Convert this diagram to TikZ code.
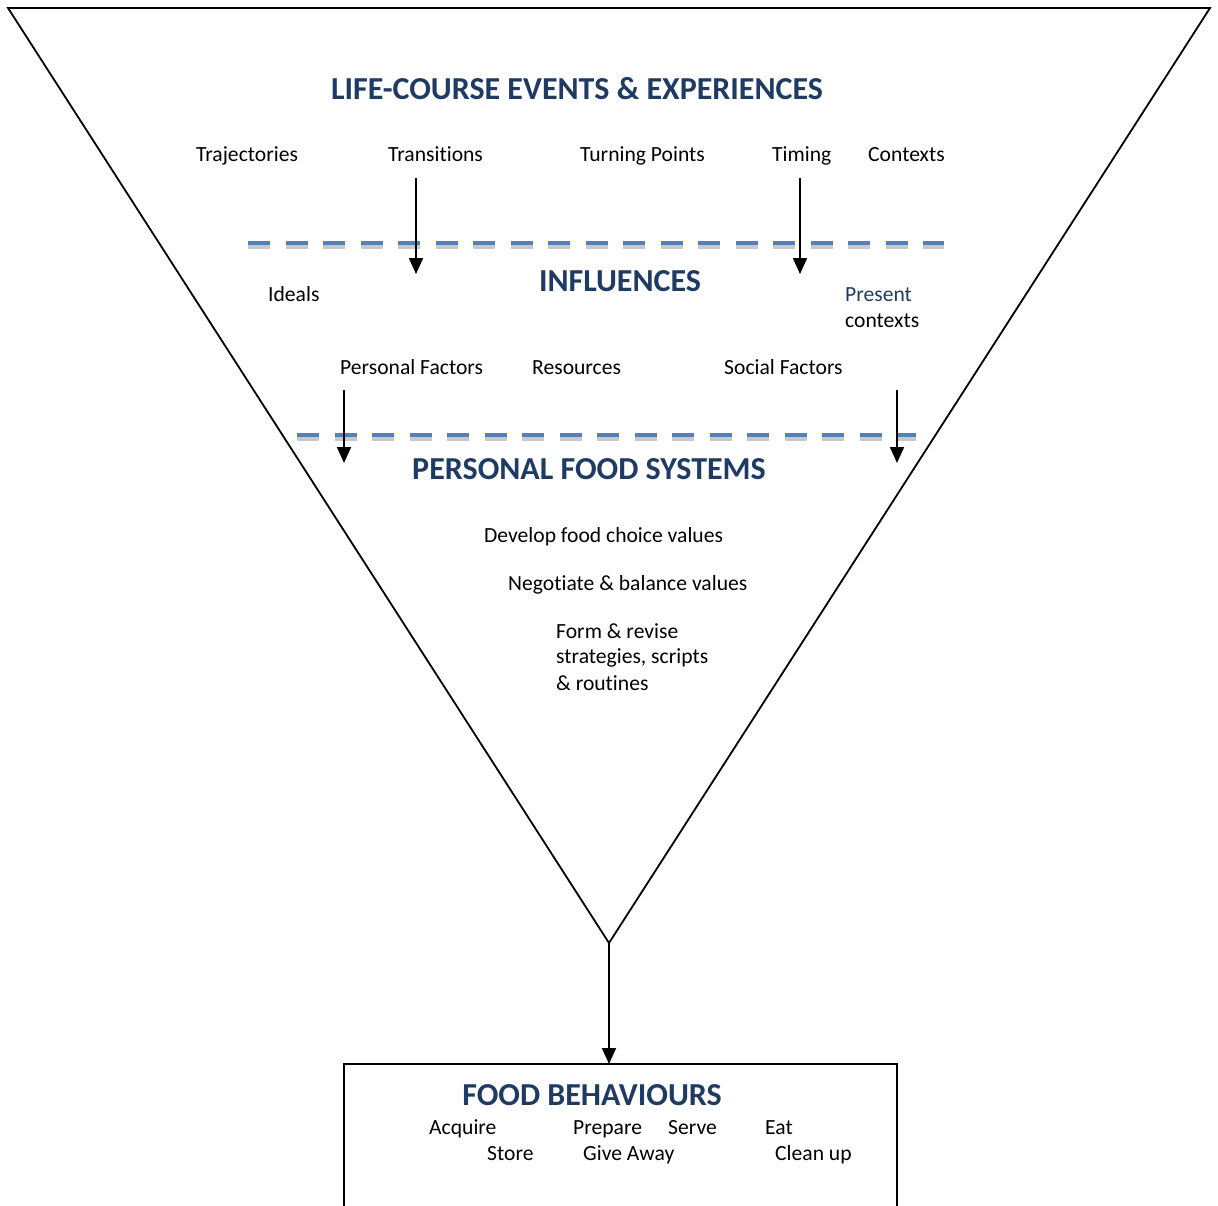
\documentclass[tikz,border=0pt]{standalone}
\usepackage{fontspec}
\setmainfont[Ligatures=NoCommon]{Carlito}
\usetikzlibrary{arrows.meta}
\definecolor{navy}{HTML}{1F3B63}
\definecolor{dashblue}{HTML}{4F81BD}
\definecolor{shadegray}{HTML}{C8C8C8}
\tikzset{
  txt/.style={anchor=base west, inner sep=0pt, font=\fontsize{21.6}{26}\selectfont},
  ttl/.style={inner sep=0pt, text=navy, font=\fontsize{32}{36}\selectfont\bfseries},
  arr/.style={line width=2pt, -{Triangle[length=16pt,width=14pt]}},
  sep/.style={line width=4pt, draw=dashblue, dash pattern=on 22pt off 15.5pt},
  sepshade/.style={line width=4pt, draw=shadegray, dash pattern=on 22pt off 15.5pt},
}
\begin{document}
\begin{tikzpicture}[x=1pt,y=-1pt]
\useasboundingbox (0,0) rectangle (1218,1205);
% funnel
\coordinate (tl) at (8,8);
\coordinate (tr) at (1210,8);
\coordinate (apex) at (609,943);
\draw[line width=1.8pt, line join=miter] (tl) -- (tr) -- (apex) -- cycle;
% separators
\draw[sepshade] (248,246.5) -- (944,246.5);
\draw[sep] (248,242.5) -- (944,242.5);
\draw[sepshade] (297,438.5) -- (916,438.5);
\draw[sep] (297,434.5) -- (916,434.5);
% titles
\node[ttl] (lc) at (577,89) {LIFE-COURSE EVENTS \& EXPERIENCES};
\node[ttl] (inf) at (620,281) {INFLUENCES};
\node[ttl] (pfs) at (589,469) {PERSONAL FOOD SYSTEMS};
\node[ttl] (fb) at (592,1095) {FOOD BEHAVIOURS};
% life-course items
\node[txt] (traj) at (196,161) {Trajectories};
\node[txt] (trans) at (388,161) {Transitions};
\node[txt] (turn) at (580,161) {Turning Points};
\node[txt] (timing) at (772,161) {Timing};
\node[txt] (ctx) at (868,161) {Contexts};
% influences
\node[txt] (ideals) at (268,301) {Ideals};
\node[txt, text=navy] (present) at (845,301) {Present};
\node[txt] (contexts) at (845,327) {contexts};
\node[txt] (pers) at (340,374) {Personal Factors};
\node[txt] (res) at (532,374) {Resources};
\node[txt] (soc) at (724,374) {Social Factors};
% personal food systems
\node[txt] (dev) at (484,542) {Develop food choice values};
\node[txt] (neg) at (508,590) {Negotiate \& balance values};
\node[txt] (form1) at (556,638) {Form \& revise};
\node[txt] (form2) at (556,663) {strategies, scripts};
\node[txt] (form3) at (556,690) {\& routines};
% food behaviours box
\coordinate (bl) at (344,1206);
\coordinate (btl) at (344,1064);
\coordinate (btr) at (897,1064);
\coordinate (br) at (897,1206);
\coordinate (btop) at (609,1064);
\draw[line width=1.8pt] (bl) -- (btl) -- (btr) -- (br);
\node[txt] (acq) at (429,1134) {Acquire};
\node[txt] (prep) at (573,1134) {Prepare};
\node[txt] (serve) at (668,1134) {Serve};
\node[txt] (eat) at (765,1134) {Eat};
\node[txt] (store) at (487,1160) {Store};
\node[txt] (give) at (583,1160) {Give Away};
\node[txt] (clean) at (775,1160) {Clean up};
% arrows
\coordinate (a1s) at (416,178); \coordinate (a1e) at (416,274);
\coordinate (a2s) at (800,178); \coordinate (a2e) at (800,274);
\coordinate (a3s) at (344,390); \coordinate (a3e) at (344,463);
\coordinate (a4s) at (897,390); \coordinate (a4e) at (897,463);
\draw[arr] (a1s) -- (a1e);
\draw[arr] (a2s) -- (a2e);
\draw[arr] (a3s) -- (a3e);
\draw[arr] (a4s) -- (a4e);
\draw[arr] (apex) -- (btop);
\end{tikzpicture}
\end{document}
